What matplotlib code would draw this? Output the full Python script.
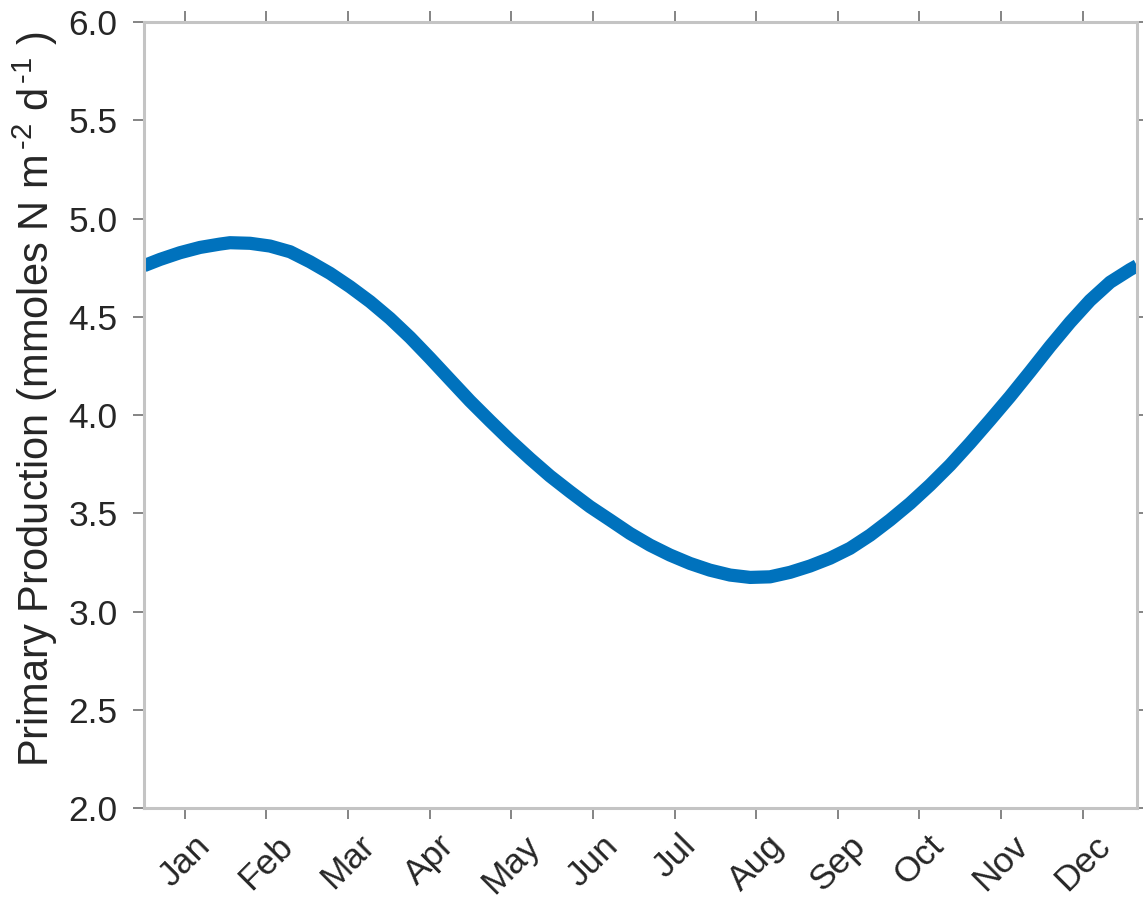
import matplotlib.pyplot as plt

# -----------------------------
# Data
# -----------------------------
day = [0, 5.9, 13.2, 20.6, 27.9, 31.6, 39.0, 46.3, 53.7, 61.0, 68.4, 75.7,
       83.1, 90.4, 97.8, 105.1, 112.5, 119.8, 127.2, 134.5, 141.9, 149.2,
       156.6, 163.9, 171.3, 178.6, 186.0, 193.3, 200.7, 208.0, 215.4, 222.8,
       230.1, 237.5, 244.8, 252.2, 259.5, 266.9, 274.2, 281.6, 288.9, 296.3,
       303.6, 311.0, 318.3, 325.7, 333.0, 340.4, 347.7, 355.1, 362.4, 365]
production = [4.760, 4.792, 4.826, 4.853, 4.870, 4.877, 4.874, 4.860, 4.831,
              4.780, 4.721, 4.653, 4.577, 4.492, 4.395, 4.290, 4.180, 4.072,
              3.970, 3.872, 3.778, 3.690, 3.610, 3.534, 3.466, 3.398, 3.338,
              3.288, 3.245, 3.211, 3.186, 3.174, 3.177, 3.200, 3.232, 3.272,
              3.322, 3.389, 3.466, 3.551, 3.644, 3.746, 3.857, 3.975, 4.094,
              4.221, 4.349, 4.472, 4.583, 4.676, 4.740, 4.760]

month_ticks = [15, 45, 75, 105, 135, 165, 195, 225, 255, 285, 315, 345]
month_labels = ["Jan", "Feb", "Mar", "Apr", "May", "Jun",
                "Jul", "Aug", "Sep", "Oct", "Nov", "Dec"]
y_ticks = [2.0, 2.5, 3.0, 3.5, 4.0, 4.5, 5.0, 5.5, 6.0]

# -----------------------------
# Style
# -----------------------------
plt.rcParams["font.family"] = ["Liberation Sans", "DejaVu Sans"]
plt.rcParams["mathtext.fontset"] = "custom"
plt.rcParams["mathtext.rm"] = "Liberation Sans"
plt.rcParams["mathtext.it"] = "Liberation Sans"
plt.rcParams["mathtext.default"] = "regular"

text_col = "#262626"
axis_col = "#c4c4c4"

fig = plt.figure(figsize=(11.43, 9.05), dpi=100)
ax = fig.add_axes([0.126, 0.107, 0.8688, 0.8687])

ax.plot(day, production, color="#0072BD", linewidth=9.5,
        solid_capstyle="butt", solid_joinstyle="round")

ax.set_xlim(0, 365)
ax.set_ylim(2, 6)
ax.set_xticks(month_ticks)
ax.set_xticklabels(month_labels, rotation=45, ha="center")
ax.set_yticks(y_ticks)
ax.set_yticklabels([f"{v:.1f}" for v in y_ticks])

ax.set_ylabel("Primary Production (mmoles N m$^{\\,\u20102}$ d$^{\\,\u20101}$ )",
              fontsize=30, color=text_col)
ax.yaxis.set_label_coords(-0.085, 0.52)

for sp in ax.spines.values():
    sp.set_color(axis_col)
    sp.set_linewidth(2.2)

ax.tick_params(axis="both", which="both", direction="out", length=8, width=1.2,
               color="#707070", labelcolor=text_col, labelsize=25.5,
               top=True, right=True)
ax.tick_params(axis="x", pad=7)
ax.tick_params(axis="y", pad=11)

plt.savefig("out.png", dpi=100)
